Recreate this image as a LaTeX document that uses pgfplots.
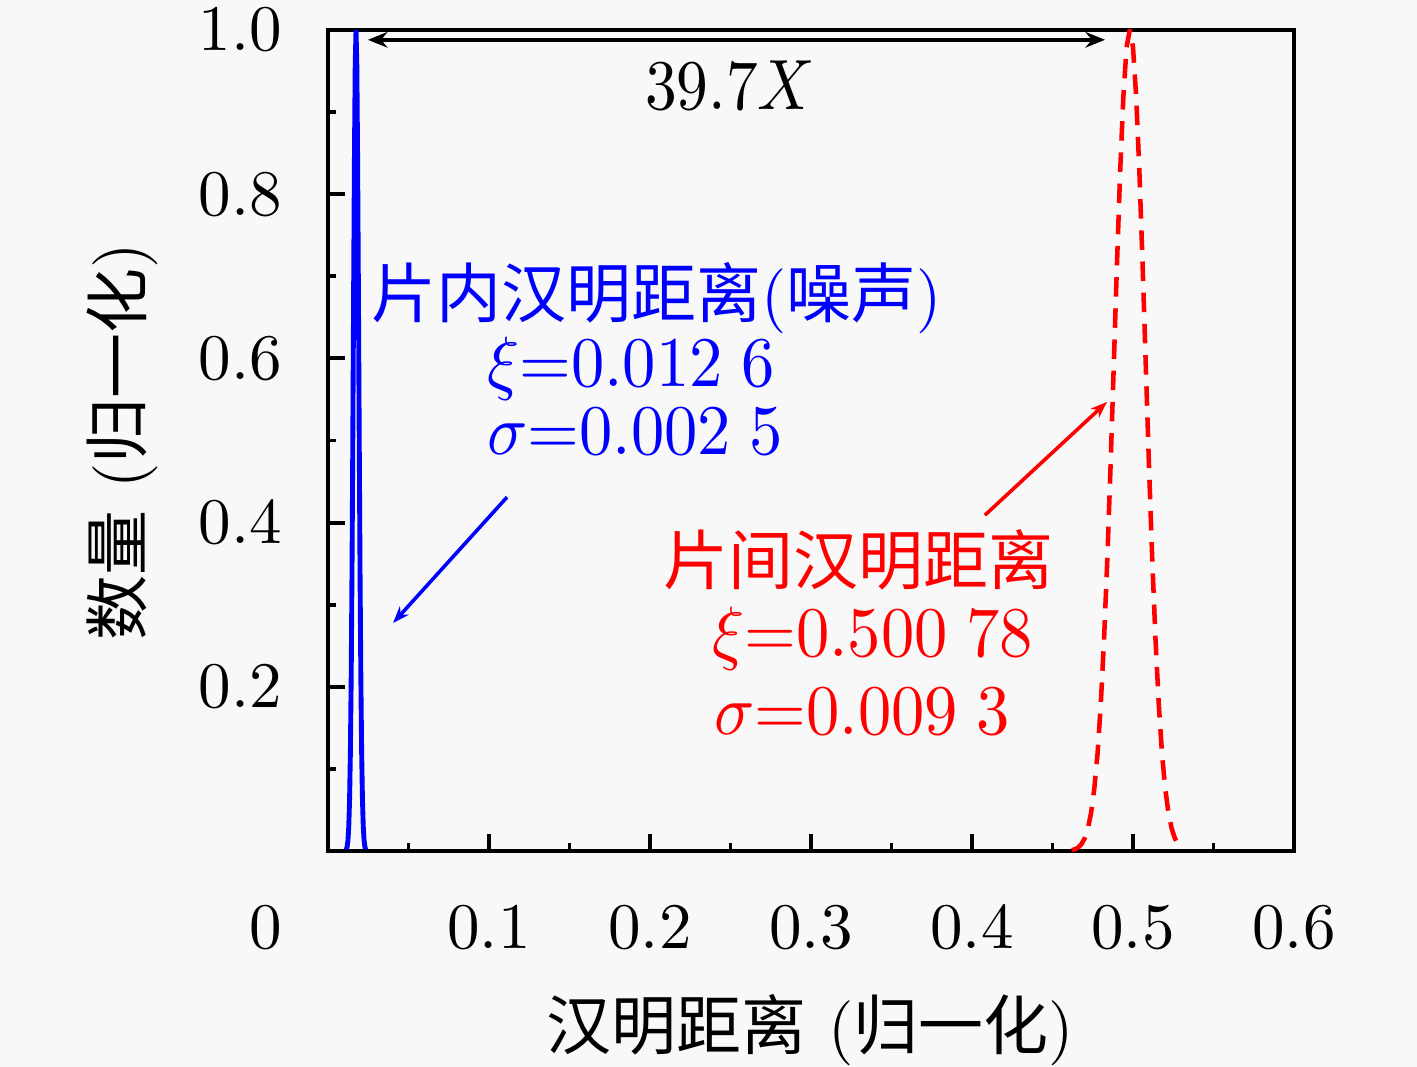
\documentclass[border=0pt]{standalone}
\usepackage{graphicx}
\usepackage{fontspec}
\newfontfamily\cjk{Noto Sans CJK SC}
\usepackage{pgfplots}
\pgfplotsset{compat=1.18}
\usetikzlibrary{arrows.meta}
\definecolor{bg}{RGB}{248,248,248}
\definecolor{myblue}{RGB}{0,0,255}
\definecolor{myred}{RGB}{255,0,0}
\newcommand{\sq}[1]{\scalebox{0.935}[1]{#1}}
\begin{document}
\begin{tikzpicture}
\fill[bg] (-50.4615pt,-33.2308pt) rectangle ++(218pt,164.1538pt);
\begin{axis}[
  at={(0pt,0pt)}, anchor=south west,
  scale only axis, width=148.615pt, height=126.308pt,
  xmin=0, xmax=0.6, ymin=0, ymax=1,
  axis line style={line width=0.6pt},
  every tick/.style={black, line width=0.6pt},
  tick align=inside, tick pos=left,
  major tick length=2.6pt, minor tick length=1.3pt,
  xtick={0.1,0.2,0.3,0.4,0.5,0.6},
  xticklabels={$0.1$,$0.2$,$0.3$,$0.4$,$0.5$,$0.6$},
  minor xtick={0.05,0.15,0.25,0.35,0.45,0.55},
  ytick={0.2,0.4,0.6,0.8,1.0},
  yticklabels={$0.2$,$0.4$,$0.6$,$0.8$,$1.0$},
  minor ytick={0.1,0.3,0.5,0.7,0.9},
  tick label style={font=\fontsize{10}{12}\selectfont},
  xticklabel style={yshift=-5pt},
  yticklabel style={xshift=-3.6pt},
]
\addplot[myblue, line width=0.75pt] coordinates {
(0.0114,0.002) (0.0119,0.0053) (0.0124,0.0132) (0.0129,0.0301) (0.0134,0.0628)
(0.0139,0.120) (0.0144,0.211) (0.0149,0.339) (0.0154,0.500) (0.0159,0.678)
(0.0164,0.841) (0.0169,0.958) (0.0174,1.000) (0.0179,0.958) (0.0184,0.841)
(0.0189,0.678) (0.0194,0.500) (0.0199,0.339) (0.0204,0.211) (0.0209,0.120)
(0.0214,0.0628) (0.0219,0.0301) (0.0224,0.0132) (0.0229,0.0053) (0.0234,0.002)
};
\addplot[myred, line width=0.7pt, dash pattern=on 3pt off 1.8pt] coordinates {
(0.462,0.0010) (0.464,0.0022) (0.466,0.0043) (0.468,0.0084) (0.470,0.0155)
(0.472,0.0275) (0.474,0.0468) (0.476,0.0764) (0.478,0.119) (0.480,0.179)
(0.482,0.257) (0.484,0.353) (0.486,0.465) (0.488,0.588) (0.490,0.712)
(0.492,0.826) (0.494,0.918) (0.496,0.979) (0.498,1.000) (0.500,0.979)
(0.502,0.918) (0.504,0.826) (0.506,0.712) (0.508,0.588) (0.510,0.465)
(0.512,0.353) (0.514,0.257) (0.516,0.179) (0.518,0.119) (0.520,0.0764)
(0.522,0.0468) (0.524,0.0275) (0.526,0.0155) (0.528,0.0084)
};
\draw[{Stealth[length=3pt,width=2.4pt]}-{Stealth[length=3pt,width=2.4pt]}, line width=0.6pt]
  (axis cs:0.0248,0.988) -- (axis cs:0.4826,0.988);
\draw[myblue, -{Stealth[length=2.6pt,width=1.9pt]}, line width=0.55pt]
  (axis cs:0.1112,0.431) -- (axis cs:0.0404,0.2777);
\draw[myred, -{Stealth[length=2.6pt,width=1.9pt]}, line width=0.55pt]
  (axis cs:0.408,0.409) -- (axis cs:0.4839,0.547);
\end{axis}
\begin{scope}[shift={(-50.4615pt,130.923pt)}, x=0.153846pt, y=-0.153846pt]
\node[anchor=base west, inner sep=0pt, font=\fontsize{10.5}{12}\selectfont] at (644,110) {\scalebox{0.89}[1]{$39.7X$}};
\node[anchor=base west, inner sep=0pt, text=myblue, font=\fontsize{10}{12}\selectfont] at (370,318) {{\cjk 片内汉明距离}({\cjk 噪声})};
\node[anchor=base west, inner sep=0pt, text=myblue, font=\fontsize{10.5}{12}\selectfont] at (486,387) {\sq{$\xi{=}0.012\;6$}};
\node[anchor=base west, inner sep=0pt, text=myblue, font=\fontsize{10.5}{12}\selectfont] at (486,455) {\sq{$\sigma{=}0.002\;5$}};
\node[anchor=base west, inner sep=0pt, text=myred, font=\fontsize{10}{12}\selectfont] at (662,585) {\cjk 片间汉明距离};
\node[anchor=base west, inner sep=0pt, text=myred, font=\fontsize{10.5}{12}\selectfont] at (711,657) {\sq{$\xi{=}0.500\;78$}};
\node[anchor=base west, inner sep=0pt, text=myred, font=\fontsize{10.5}{12}\selectfont] at (713,735) {\sq{$\sigma{=}0.009\;3$}};
\node[anchor=north, inner sep=0pt, font=\fontsize{10}{12}\selectfont] at (266,905) {$0$};
\node[rotate=90, anchor=base, inner sep=0pt, font=\fontsize{10}{12}\selectfont] at (142,442) {{\cjk 数量} ({\cjk 归一化})};
\node[anchor=base, inner sep=0pt, font=\fontsize{10}{12}\selectfont] at (810,1050) {{\cjk 汉明距离} ({\cjk 归一化})};
\pgfresetboundingbox
\path (0,0) rectangle (1417,1067);
\end{scope}
\end{tikzpicture}
\end{document}
